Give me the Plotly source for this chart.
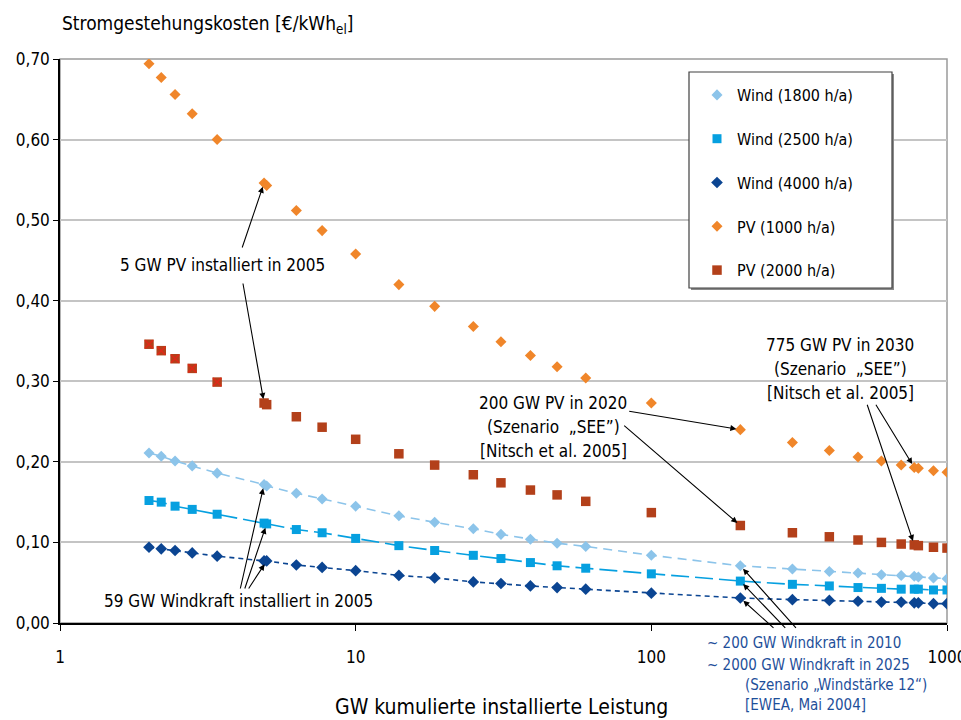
import math
import plotly.graph_objects as go

# ---------------- data ----------------
capacity_gw = [2, 2.2, 2.45, 2.8, 3.4, 4.9, 5, 6.3, 7.7, 10, 14, 18.5, 25, 31, 39, 48, 60,
               100, 200, 300, 400, 500, 600, 700, 775, 800, 900, 1000]
wind_1800 = [0.211, 0.207, 0.201, 0.195, 0.186, 0.172, 0.170, 0.161, 0.154, 0.145, 0.133, 0.125,
             0.117, 0.110, 0.104, 0.099, 0.095, 0.084, 0.071, 0.067, 0.064, 0.062, 0.060, 0.059,
             0.058, 0.057, 0.056, 0.055]
wind_2500 = [0.152, 0.150, 0.145, 0.141, 0.135, 0.124, 0.123, 0.116, 0.112, 0.105, 0.096, 0.090,
             0.084, 0.080, 0.075, 0.071, 0.068, 0.061, 0.052, 0.048, 0.046, 0.044, 0.043, 0.042,
             0.042, 0.042, 0.041, 0.041]
wind_4000 = [0.094, 0.092, 0.090, 0.087, 0.083, 0.077, 0.077, 0.072, 0.069, 0.065, 0.059, 0.056,
             0.051, 0.049, 0.046, 0.044, 0.042, 0.037, 0.031, 0.029, 0.028, 0.027, 0.026, 0.026,
             0.025, 0.025, 0.024, 0.024]
pv_1000 = [0.694, 0.677, 0.656, 0.632, 0.600, 0.546, 0.543, 0.512, 0.487, 0.458, 0.420, 0.393,
           0.368, 0.349, 0.332, 0.318, 0.304, 0.273, 0.240, 0.224, 0.214, 0.206, 0.201, 0.196,
           0.193, 0.192, 0.189, 0.187]
pv_2000 = [0.346, 0.338, 0.328, 0.316, 0.299, 0.273, 0.271, 0.256, 0.243, 0.228, 0.210, 0.196,
           0.184, 0.174, 0.165, 0.159, 0.151, 0.137, 0.121, 0.112, 0.107, 0.103, 0.100, 0.098,
           0.097, 0.096, 0.094, 0.093]
x_ticks = [1, 10, 100, 1000]
x_tick_labels = ["1", "10", "100", "1000"]
y_ticks = [0.0, 0.1, 0.2, 0.3, 0.4, 0.5, 0.6, 0.7]

FONT = "Liberation Sans Narrow, Arial Narrow, DejaVu Sans Condensed, sans-serif"
C_W1800 = "#8cc4ea"
C_W2500 = "#06a0e0"
C_W4000 = "#0b4592"
C_PV1000 = "#f0862a"
C_PV2000 = "#b3401a"
C_NOTE = "#1e4f9a"

W, H = 961, 720
L, R, T, B = 60, 14, 59, 97
PW, PH = W - L - R, H - T - B


def pxx(px):  # pixel -> paper x
    return (px - L) / PW


def pxy(py):  # pixel -> paper y
    return (H - B - py) / PH


fig = go.Figure()

series = [
    ("Wind (1800 h/a)", wind_1800, C_W1800, "diamond", 8.5, "9px,6px", 1.6),
    ("Wind (2500 h/a)", wind_2500, C_W2500, "square", 9, "18px,6px", 1.6),
    ("Wind (4000 h/a)", wind_4000, C_W4000, "diamond", 9, "5px,4px", 1.6),
    ("PV (1000 h/a)", pv_1000, C_PV1000, "diamond", 8.5, None, 0),
    ("PV (2000 h/a)", pv_2000, C_PV2000, "square", 9.5, None, 0),
]
for i, (name, ys, col, sym, size, dash, lw) in enumerate(series):
    if dash:
        fig.add_trace(go.Scatter(x=capacity_gw, y=ys, mode="lines", showlegend=False,
                                 line=dict(color=col, width=lw, dash=dash), hoverinfo="skip"))
    fig.add_trace(go.Scatter(x=capacity_gw, y=ys, mode="markers", name=name,
                             legendgroup="g%d" % i,
                             marker=dict(symbol=sym, size=size, color=col, line=dict(width=0))))

# red crosses on the first PV (2000 h/a) points
fig.add_trace(go.Scatter(x=capacity_gw[:5], y=pv_2000[:5], mode="markers", showlegend=False,
                         marker=dict(symbol="x-thin", size=8, line=dict(color="#e02818", width=1.5)),
                         hoverinfo="skip"))

annotations = []


def text_ann(txt, px, py, size=17, color="black", xanchor="center"):
    annotations.append(dict(text=txt, x=pxx(px), y=pxy(py), xref="paper", yref="paper",
                            showarrow=False, xanchor=xanchor, yanchor="middle",
                            font=dict(family=FONT, size=size, color=color)))


def arrow(xval, yval, tail_px, tail_py):
    annotations.append(dict(text="", x=math.log10(xval), y=yval, xref="x", yref="y",
                            ax=(tail_px - L) / PW * 3, ay=(H - B - tail_py) / PH * 0.7,
                            axref="x", ayref="y", showarrow=True, arrowhead=2,
                            arrowsize=1.1, arrowwidth=1.1, arrowcolor="black", standoff=4))


# axis titles
annotations.append(dict(text="Stromgestehungskosten [€/kWh<sub>el</sub>]", x=0, y=pxy(24),
                        xref="paper", yref="paper", showarrow=False, xanchor="left",
                        yanchor="middle", font=dict(family=FONT, size=19, color="black")))
text_ann("GW kumulierte installierte Leistung", 501, 707, size=21)

# notes
text_ann("5 GW PV installiert in 2005", 222, 265)
arrow(capacity_gw[5], pv_1000[5], 241.7, 249)
arrow(capacity_gw[5], pv_2000[5], 242.7, 282)

text_ann("59 GW Windkraft installiert in 2005", 238, 601)
arrow(capacity_gw[5], wind_1800[5], 240, 590)
arrow(capacity_gw[6], wind_2500[6], 244.3, 590)
arrow(capacity_gw[6], wind_4000[6], 247.7, 590)

text_ann("200 GW PV in 2020", 553, 403)
text_ann("(Szenario  „SEE”)", 553, 427)
text_ann("[Nitsch et al. 2005]", 553, 451)
arrow(capacity_gw[18], pv_1000[18], 627.7, 411)
arrow(capacity_gw[18], pv_2000[18], 622.7, 424.3)

text_ann("775 GW PV in 2030", 840, 345)
text_ann("(Szenario  „SEE”)", 840, 369)
text_ann("[Nitsch et al. 2005]", 840, 393)
arrow(capacity_gw[24], pv_1000[24], 875, 403.3)
arrow(capacity_gw[24], pv_2000[24], 866.7, 403.3)

text_ann("~ 200 GW Windkraft in 2010", 705, 643, size=15, color=C_NOTE, xanchor="left")
text_ann("~ 2000 GW Windkraft in 2025", 705, 665, size=15, color=C_NOTE, xanchor="left")
text_ann("(Szenario „Windstärke 12“)", 743, 685, size=15, color=C_NOTE, xanchor="left")
text_ann("[EWEA, Mai 2004]", 743, 705, size=15, color=C_NOTE, xanchor="left")
arrow(capacity_gw[18], wind_1800[18], 797.3, 629.3)
arrow(capacity_gw[18], wind_2500[18], 786.7, 629.3)
arrow(capacity_gw[18], wind_4000[18], 775, 629.3)

shapes = [
    # plot frame (grey top/right)
    dict(type="rect", xref="paper", yref="paper", x0=0, y0=0, x1=1, y1=1,
         line=dict(color="#9a9a9a", width=1.5), layer="below"),
    # legend shadow and box
    dict(type="rect", xref="paper", yref="paper", x0=pxx(691), x1=pxx(894), y0=pxy(290),
         y1=pxy(74), line=dict(width=0), fillcolor="#8a8a8a", layer="above"),
    dict(type="rect", xref="paper", yref="paper", x0=pxx(689), x1=pxx(892), y0=pxy(288),
         y1=pxy(72), line=dict(color="#404040", width=1.2), fillcolor="white", layer="above"),
]

fig.update_layout(
    width=W, height=H,
    margin=dict(l=L, r=R, t=T, b=B, autoexpand=False),
    paper_bgcolor="white", plot_bgcolor="white",
    separators=",.",
    font=dict(family=FONT, size=17, color="black"),
    showlegend=True,
    legend=dict(x=pxx(697), y=pxy(78), xanchor="left", yanchor="top",
                bgcolor="rgba(0,0,0,0)", borderwidth=0, tracegroupgap=20,
                font=dict(family=FONT, size=16, color="black"), itemwidth=30),
    annotations=annotations,
    shapes=shapes,
    xaxis=dict(type="log", range=[0, 3], tickvals=x_ticks, ticktext=x_tick_labels,
               showgrid=False, zeroline=False, showline=True, linecolor="black", linewidth=1.5,
               ticks="outside", ticklen=6, tickcolor="black", tickwidth=1.2, automargin=False,
               ticklabelstandoff=12, ticklabeloverflow="allow",
               tickfont=dict(family=FONT, size=17, color="black")),
    yaxis=dict(range=[0, 0.7], tickvals=y_ticks, tickformat=".2f", showgrid=True,
               gridcolor="#c4c4c4", gridwidth=1.5, zeroline=False, showline=True,
               linecolor="black", linewidth=1.5, ticks="outside", ticklen=5,
               tickcolor="black", tickwidth=1.2, automargin=False,
               tickfont=dict(family=FONT, size=17, color="black")),
)

fig.write_html("out.html", config={"displayModeBar": False},
               post_script="document.body.style.margin='0';")
